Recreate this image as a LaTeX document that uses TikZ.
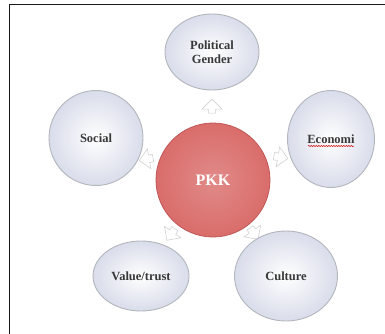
\documentclass[tikz,border=0pt]{standalone}
\usepackage{fontspec}
\setmainfont{Liberation Serif}
\usetikzlibrary{shapes.arrows,shapes.geometric,decorations.pathmorphing}
\definecolor{satfill}{HTML}{D9DCEA}
\definecolor{satedge}{HTML}{B4B6BE}
\definecolor{hubfill}{HTML}{D96D6B}
\definecolor{hubedge}{HTML}{C05856}
\definecolor{txt}{HTML}{383838}
\tikzset{
  sat/.style={ellipse, draw=satedge, line width=0.9pt, inner color=white, outer color=satfill,
    font=\bfseries\fontsize{12.5}{13.5}\selectfont, text=txt, align=center},
  hub/.style={circle, draw=hubedge, line width=0.8pt, inner color=hubfill!80!white, outer color=hubfill,
    font=\bfseries\fontsize{16}{17}\selectfont, text=white, minimum size=114pt},
  conn/.style={single arrow, draw=gray!35, fill=white, line width=0.6pt,
    minimum height=14pt, minimum width=20pt, single arrow head extend=3pt, inner sep=1.5pt},
  frame/.style={line width=1.8pt, black!90}
}
\begin{document}
\begin{tikzpicture}[x=1pt,y=-1pt]
\useasboundingbox (0,0) rectangle (385,334);
\draw[frame] (9.5,334) coordinate (fb) -- (9.5,4.5) coordinate (fc) -- (385,4.5) coordinate (fr);
\node[conn, rotate=90] (a1) at (212,108) {};
\node[conn, rotate=190] (a2) at (148,159) {};
\node[conn, rotate=-10] (a3) at (279,157) {};
\node[conn, rotate=235] (a4) at (172,233) {};
\node[conn, rotate=-55] (a5) at (253,232) {};
\node[hub] (pkk) at (213,180) {PKK};
\node[sat, minimum width=94pt, minimum height=76pt] (pol) at (212,52) {Political\\Gender};
\node[sat, minimum width=94pt, minimum height=95pt] (soc) at (96,138) {Social};
\node[sat, minimum width=87pt, minimum height=97pt] (eco) at (331,139) {Economi};
\node[sat, minimum width=96pt, minimum height=70pt] (val) at (141,276) {Value/trust};
\node[sat, minimum width=103pt, minimum height=90pt] (cul) at (286,276) {Culture};
\draw[red!80!black, line width=0.5pt, decorate, decoration={snake, amplitude=0.6pt, segment length=2.5pt}]
  (eco.center) ++(-23,7) coordinate (u1) -- ++(46,0) coordinate (u2);
\end{tikzpicture}
\end{document}
